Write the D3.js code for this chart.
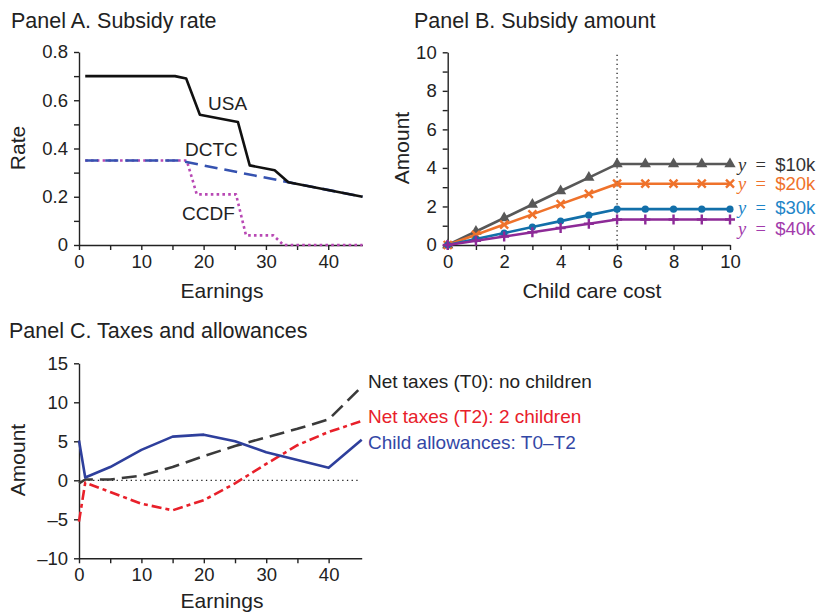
<!DOCTYPE html>
<html>
<head>
<meta charset="utf-8">
<script src="https://cdn.jsdelivr.net/npm/d3@7"></script>
<style>
  body { margin: 0; background: #fff; }
  svg text { font-family: "Liberation Sans", Arial, sans-serif; fill: #222; }
  .axis path, .axis line { stroke: #222; stroke-width: 1.4; }
  .axis text { font-size: 18.5px; fill: #222; }
</style>
</head>
<body>
<svg id="chart" width="816" height="613"></svg>
<script>
// ---------------- data: panel A (subsidy rate vs earnings) ----------------
var usaEarn  = [1, 15.4, 17.2, 19.4, 25.5, 27.4, 31.4, 33.6, 45.5];
var usaRate  = [0.70, 0.70, 0.69, 0.54, 0.51, 0.33, 0.31, 0.26, 0.20];
var dctcEarn = [1, 16, 45.5];
var dctcRate = [0.35, 0.35, 0.20];
var ccdfEarn = [1, 17.3, 18.9, 25.2, 26.8, 31.2, 32.8, 45.5];
var ccdfRate = [0.35, 0.35, 0.21, 0.21, 0.04, 0.04, 0, 0];

// ---------------- data: panel B (subsidy amount vs child care cost) ----------------
var careCost = [0, 1, 2, 3, 4, 5, 6, 7, 8, 9, 10];
var amt10k = [0, 0.70, 1.40, 2.10, 2.80, 3.50, 4.20, 4.20, 4.20, 4.20, 4.20];
var amt20k = [0, 0.53, 1.06, 1.59, 2.12, 2.65, 3.18, 3.18, 3.18, 3.18, 3.18];
var amt30k = [0, 0.31, 0.62, 0.93, 1.24, 1.55, 1.86, 1.86, 1.86, 1.86, 1.86];
var amt40k = [0, 0.22, 0.44, 0.66, 0.88, 1.10, 1.32, 1.32, 1.32, 1.32, 1.32];
var incomeLabels = ["$10k", "$20k", "$30k", "$40k"];
var capCost = 6;

// ---------------- data: panel C (taxes and allowances vs earnings) ----------------
var earnC   = [0, 1, 5, 10, 15, 20, 25, 30, 35, 40, 45.3];
var netT0   = [-0.4, 0.1, 0.1, 0.6, 1.7, 3.1, 4.4, 5.5, 6.6, 7.8, 12.0];
var netT2   = [-5.3, -0.3, -1.5, -3.0, -3.85, -2.55, -0.4, 2.1, 4.5, 6.2, 7.6];
var allowT  = [5.1, 0.35, 1.7, 3.9, 5.6, 5.85, 5.0, 3.6, 2.6, 1.6, 5.2];
var seriesC = ["Net taxes (T0): no children", "Net taxes (T2): 2 children", "Child allowances: T0\u2013T2"];

var svg = d3.select("#chart");

function zip(xs, ys) {
    return xs.map(function(x, i) { return [x, ys[i]]; });
}

function drawLine(g, pts, sx, sy, color, width, dash) {
    var line = d3.line().x(function(d) { return sx(d[0]); }).y(function(d) { return sy(d[1]); });
    g.append("path")
        .datum(pts)
        .attr("d", line)
        .attr("fill", "none")
        .attr("stroke", color)
        .attr("stroke-width", width)
        .attr("stroke-linejoin", "round")
        .attr("stroke-dasharray", dash || null);
}

function axes(sx, sy, xVals, xMajor, yVals, yMajor, yFmt) {
    svg.append("g").attr("class", "axis")
        .attr("transform", "translate(0," + sy.range()[0] + ")")
        .call(d3.axisBottom(sx).tickValues(xVals).tickSize(5).tickSizeOuter(0).tickPadding(5)
            .tickFormat(function(d) { return xMajor(d) ? d : ""; }));
    svg.append("g").attr("class", "axis")
        .attr("transform", "translate(" + sx.range()[0] + ",0)")
        .call(d3.axisLeft(sy).tickValues(yVals).tickSize(5).tickSizeOuter(0).tickPadding(6)
            .tickFormat(function(d) { return yMajor(d) ? yFmt(d) : ""; }));
}

function title(x, y, txt) {
    svg.append("text").attr("x", x).attr("y", y).attr("font-size", 21.5).text(txt);
}

function axisTitle(x, y, txt, rotate) {
    var t = svg.append("text").attr("font-size", 21).attr("text-anchor", "middle").text(txt);
    if (rotate) t.attr("transform", "translate(" + x + "," + y + ") rotate(-90)");
    else t.attr("x", x).attr("y", y);
}

// ======================================================================
// PANEL A
// ======================================================================
var xA = d3.scaleLinear().domain([0, 45.5]).range([79, 362.5]);
var yA = d3.scaleLinear().domain([0, 0.8]).range([245, 52]);
title(11, 28, "Panel A. Subsidy rate");
axes(xA, yA, d3.range(0, 45, 5), function(d) { return d % 10 === 0; },
     d3.range(0, 9).map(function(i) { return i / 10; }),
     function(d) { return Math.round(d * 10) % 2 === 0; },
     function(d) { return d === 0 ? "0" : d3.format(".1f")(d); });
var gA = svg.append("g");
drawLine(gA, zip(ccdfEarn, ccdfRate), xA, yA, "#b848b4", 2.6, "2.6,3.2");
drawLine(gA, zip(dctcEarn, dctcRate), xA, yA, "#3552b0", 2.6, "13,7");
drawLine(gA, zip(usaEarn, usaRate), xA, yA, "#111", 2.6);
gA.append("text").attr("x", 208).attr("y", 110).attr("font-size", 19).attr("fill", "#111").text("USA");
gA.append("text").attr("x", 185).attr("y", 156).attr("font-size", 19).attr("fill", "#3a52b4").text("DCTC");
gA.append("text").attr("x", 182).attr("y", 220).attr("font-size", 19).attr("fill", "#b24cb0").text("CCDF");
axisTitle(25, 148, "Rate", true);
axisTitle(222, 298, "Earnings", false);

// ======================================================================
// PANEL B
// ======================================================================
var xB = d3.scaleLinear().domain([0, 10]).range([447.7, 730]);
var yB = d3.scaleLinear().domain([0, 10]).range([245, 52.3]);
title(414, 28, "Panel B. Subsidy amount");
axes(xB, yB, d3.range(0, 11), function(d) { return d % 2 === 0; },
     d3.range(0, 11), function(d) { return d % 2 === 0; }, function(d) { return d; });
var gB = svg.append("g");
gB.append("line")
    .attr("x1", xB(capCost)).attr("x2", xB(capCost))
    .attr("y1", yB(0)).attr("y2", yB(10))
    .attr("stroke", "#222").attr("stroke-width", 1.3).attr("stroke-dasharray", "1.3,3.2");

var seriesB = [
    { vals: amt10k, color: "#585858", label: "#333", marker: "tri", dy: 0 },
    { vals: amt20k, color: "#ef722b", label: "#ef722b", marker: "x", dy: 0 },
    { vals: amt30k, color: "#126fa9", label: "#1d85c8", marker: "dot", dy: -2 },
    { vals: amt40k, color: "#8d2a97", label: "#a23bac", marker: "plus", dy: 9 }
];
seriesB.forEach(function(s, k) {
    var pts = zip(careCost, s.vals);
    drawLine(gB, pts, xB, yB, s.color, 2.6);
    var m = gB.append("g").selectAll("path").data(pts).enter().append("path")
        .attr("transform", function(d) { return "translate(" + xB(d[0]) + "," + yB(d[1]) + ")"; });
    if (s.marker === "tri") {
        m.attr("d", d3.symbol(d3.symbolTriangle, 55)).attr("fill", s.color);
    } else if (s.marker === "dot") {
        m.attr("d", d3.symbol(d3.symbolCircle, 40)).attr("fill", s.color);
    } else if (s.marker === "x") {
        m.attr("d", "M-4,-4L4,4M-4,4L4,-4").attr("stroke", s.color).attr("stroke-width", 2.4).attr("fill", "none");
    } else {
        m.attr("d", "M-5,0L5,0M0,-5L0,5").attr("stroke", s.color).attr("stroke-width", 2.4).attr("fill", "none");
    }
    var lastY = yB(s.vals[s.vals.length - 1]) + s.dy;
    var t = gB.append("text").attr("x", 738).attr("y", lastY).attr("dy", "0.35em")
        .attr("font-size", 18.5).style("fill", s.label);
    t.append("tspan").style("font-family", "'Liberation Serif', 'Times New Roman', serif")
        .style("font-style", "italic").style("fill", s.label).text("y");
    t.append("tspan").style("font-family", "'Liberation Serif', 'Times New Roman', serif")
        .style("fill", s.label).text("\u2002=\u2002");
    t.append("tspan").style("fill", s.label).text(incomeLabels[k]);
});
axisTitle(409, 148, "Amount", true);
axisTitle(592, 298, "Child care cost", false);

// ======================================================================
// PANEL C
// ======================================================================
var xC = d3.scaleLinear().domain([0, 45.3]).range([79, 361.7]);
var yC = d3.scaleLinear().domain([-10, 15]).range([558.3, 363.3]);
title(9, 338, "Panel C. Taxes and allowances");
axes(xC, yC, d3.range(0, 45, 5), function(d) { return d % 10 === 0; },
     d3.range(-10, 16, 5), function(d) { return true; }, function(d) { return d < 0 ? "\u2013" + Math.abs(d) : d; });
var gC = svg.append("g");
gC.append("line")
    .attr("x1", xC(0)).attr("x2", xC(45))
    .attr("y1", yC(0)).attr("y2", yC(0))
    .attr("stroke", "#222").attr("stroke-width", 1.3).attr("stroke-dasharray", "1.3,3.4");
drawLine(gC, zip(earnC, netT0), xC, yC, "#3a3a3a", 2.6, "15,7");
drawLine(gC, zip(earnC, netT2), xC, yC, "#e8202a", 2.6, "10,4,4,4");
drawLine(gC, zip(earnC, allowT), xC, yC, "#2e3f9c", 2.6);
var labelC = [
    { y: 388, color: "#222" },
    { y: 423, color: "#e8202a" },
    { y: 449, color: "#3347a6" }
];
labelC.forEach(function(l, i) {
    gC.append("text").attr("x", 368).attr("y", l.y).attr("font-size", 19).style("fill", l.color).text(seriesC[i]);
});
axisTitle(25, 460, "Amount", true);
axisTitle(222, 608, "Earnings", false);
</script>
</body>
</html>
